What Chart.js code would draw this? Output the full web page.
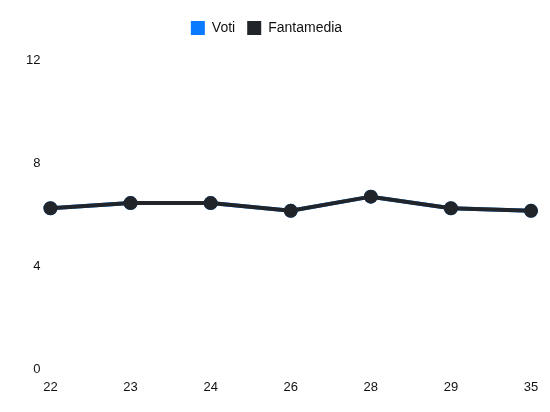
<!DOCTYPE html>
<html>
<head>
<meta charset="utf-8">
<script src="https://cdn.jsdelivr.net/npm/chart.js@4"></script>
<style>
  html, body { margin: 0; padding: 0; background: #fff; }
  #wrap { width: 550px; height: 412px; }
</style>
</head>
<body>
<div id="wrap"><canvas id="chart"></canvas></div>
<script>
// match days and ratings
const giornate = ['22', '23', '24', '26', '28', '29', '35'];
const voti = [6.25, 6.45, 6.45, 6.15, 6.7, 6.25, 6.15];
const fantamedia = [6.25, 6.45, 6.45, 6.15, 6.7, 6.25, 6.15];
const yTicks = [0, 4, 8, 12];

Chart.defaults.font.family = '"Liberation Sans", Arial, sans-serif';
Chart.defaults.font.size = 13;
Chart.defaults.color = '#111';

function makeDataset(label, data, color, order) {
    return {
        label: label,
        data: data,
        order: order,
        borderColor: color,
        backgroundColor: color,
        pointBackgroundColor: color,
        pointBorderColor: color,
        borderWidth: 4,
        pointRadius: 5,
        tension: 0
    };
}

// push the plot area down below the legend and nudge the legend left
const legendTweak = {
    id: 'legendTweak',
    beforeInit(chart) {
        const fit = chart.legend.fit;
        chart.legend.fit = function () {
            fit.bind(chart.legend)();
            this.height += 15;
        };
    },
    afterLayout(chart) {
        chart.legend.left -= 7;
        chart.legend.right -= 7;
    }
};

const ctx = document.getElementById('chart').getContext('2d');
new Chart(ctx, {
    type: 'line',
    data: {
        labels: giornate,
        datasets: [
            makeDataset('Voti', voti, '#0a7bff', 2),
            makeDataset('Fantamedia', fantamedia, '#212529', 1)
        ]
    },
    options: {
        responsive: true,
        maintainAspectRatio: false,
        animation: false,
        layout: { padding: { left: 16, right: 19, top: 9, bottom: 7 } },
        scales: {
            x: {
                grid: { display: false, drawTicks: false },
                border: { display: false },
                ticks: { padding: 10 }
            },
            y: {
                min: 0,
                max: 12,
                afterBuildTicks: axis => { axis.ticks = yTicks.map(v => ({ value: v })); },
                grid: { display: false, drawTicks: false },
                border: { display: false },
                ticks: { padding: 10 }
            }
        },
        plugins: {
            legend: {
                display: true,
                position: 'top',
                labels: {
                    boxWidth: 14,
                    boxHeight: 14,
                    padding: 12,
                    color: '#111',
                    font: { size: 14 },
                    generateLabels: chart => {
                        const items = Chart.defaults.plugins.legend.labels.generateLabels(chart);
                        items.forEach(it => { it.lineWidth = 0; });
                        return items.sort((a, b) => a.datasetIndex - b.datasetIndex);
                    }
                }
            },
            tooltip: { enabled: false }
        }
    },
    plugins: [legendTweak]
});
</script>
</body>
</html>
